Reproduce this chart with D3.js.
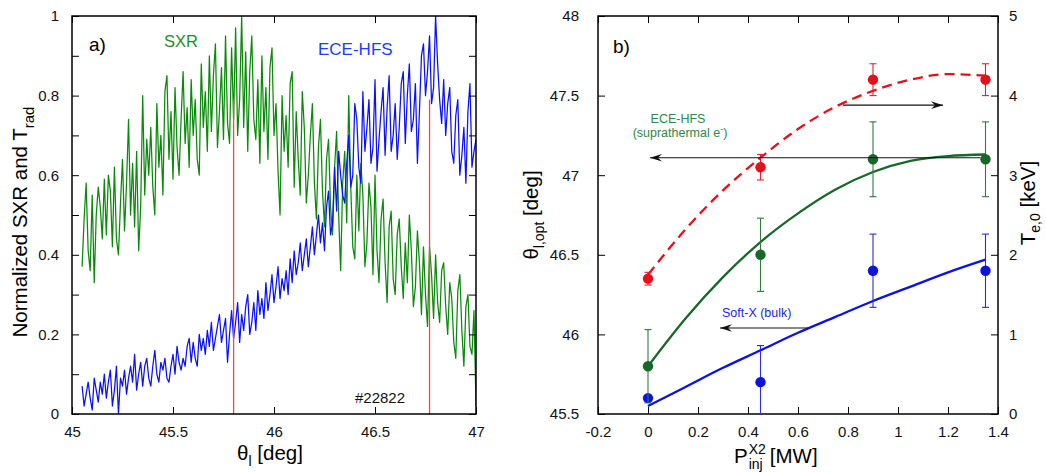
<!DOCTYPE html>
<html>
<head>
<meta charset="utf-8">
<script src="https://cdn.jsdelivr.net/npm/d3@7"></script>
<style>
  body { margin: 0; background: #fff; }
  svg text { font-family: "Liberation Sans", Arial, Helvetica, sans-serif; }
</style>
</head>
<body>
<div id="container"></div>
<script>
/**
 * CONSTANTS AND GLOBALS
 * */
const width = 1046,
  height = 472;
const panelA = { left: 72, right: 476, top: 16, bottom: 414 };
const panelB = { left: 598, right: 998, top: 16, bottom: 414 };

/**
 * DATA
 * */
// panel a) launch angle scan, one sample every 0.01 deg from 45.05 to 47.00
const thetaStart = 45.05,
  thetaStep = 0.01;
const sxr = [
  0.37, 0.49, 0.58, 0.41, 0.36, 0.55, 0.33, 0.50, 0.57, 0.52,
  0.44, 0.59, 0.45, 0.60, 0.56, 0.42, 0.62, 0.44, 0.40, 0.53,
  0.64, 0.46, 0.58, 0.74, 0.50, 0.63, 0.47, 0.66, 0.41, 0.52,
  0.80, 0.55, 0.69, 0.60, 0.72, 0.57, 0.50, 0.78, 0.62, 0.70,
  0.55, 0.81, 0.85, 0.64, 0.76, 0.59, 0.82, 0.67, 0.60, 0.74,
  0.86, 0.68, 0.77, 0.62, 0.84, 0.70, 0.79, 0.64, 0.60, 0.88,
  0.72, 0.81, 0.66, 0.90, 0.71, 0.85, 0.93, 0.67, 0.76, 0.87,
  0.69, 0.95, 0.73, 0.68, 0.92, 0.74, 0.97, 0.70, 0.79, 1.00,
  0.72, 0.91, 0.66, 0.86, 0.95, 0.74, 0.69, 0.84, 0.63, 0.90,
  0.71, 0.82, 0.64, 0.87, 0.92, 0.70, 0.78, 0.61, 0.50, 0.80,
  0.66, 0.75, 0.62, 0.83, 0.86, 0.57, 0.76, 0.64, 0.55, 0.81,
  0.72, 0.53, 0.60, 0.70, 0.78, 0.58, 0.49, 0.67, 0.74, 0.56,
  0.47, 0.64, 0.69, 0.52, 0.45, 0.62, 0.71, 0.50, 0.36, 0.58,
  0.66, 0.48, 0.80, 0.57, 0.42, 0.39, 0.60, 0.46, 0.63, 0.55,
  0.37, 0.43, 0.58, 0.52, 0.35, 0.60, 0.41, 0.33, 0.49, 0.54,
  0.38, 0.28, 0.47, 0.51, 0.34, 0.30, 0.45, 0.49, 0.37, 0.29,
  0.43, 0.33, 0.50, 0.41, 0.27, 0.32, 0.46, 0.38, 0.25, 0.42,
  0.30, 0.22, 0.42, 0.35, 0.24, 0.40, 0.28, 0.23, 0.36, 0.38,
  0.27, 0.20, 0.33, 0.29, 0.18, 0.14, 0.31, 0.35, 0.21, 0.12,
  0.27, 0.30, 0.17, 0.15, 0.26, 0.02,
];
const eceHfs = [
  0.07, 0.02, 0.05, 0.08, 0.04, 0.01, 0.09, 0.06, 0.03, 0.08,
  0.05, 0.10, 0.04, 0.08, 0.11, 0.02, 0.06, 0.12, 0.00, 0.09,
  0.07, 0.11, 0.05, 0.09, 0.12, 0.08, 0.15, 0.06, 0.10, 0.13,
  0.07, 0.12, 0.14, 0.09, 0.07, 0.12, 0.16, 0.10, 0.08, 0.13,
  0.11, 0.14, 0.09, 0.08, 0.12, 0.15, 0.10, 0.17, 0.13, 0.11,
  0.14, 0.12, 0.17, 0.19, 0.13, 0.18, 0.14, 0.12, 0.20, 0.16,
  0.19, 0.15, 0.21, 0.17, 0.23, 0.16, 0.19, 0.22, 0.25, 0.18,
  0.21, 0.24, 0.13, 0.20, 0.26, 0.19, 0.23, 0.28, 0.18, 0.25,
  0.21, 0.27, 0.30, 0.20, 0.23, 0.28, 0.21, 0.31, 0.25, 0.29,
  0.24, 0.33, 0.26, 0.30, 0.35, 0.28, 0.32, 0.37, 0.29, 0.34,
  0.31, 0.36, 0.30, 0.39, 0.33, 0.41, 0.35, 0.38, 0.43, 0.36,
  0.40, 0.44, 0.37, 0.42, 0.47, 0.40, 0.45, 0.50, 0.43, 0.48,
  0.41, 0.52, 0.56, 0.45, 0.48, 0.62, 0.51, 0.66, 0.60, 0.55,
  0.53, 0.63, 0.70, 0.57, 0.60, 0.78, 0.74, 0.62, 0.58, 0.81,
  0.66, 0.72, 0.79, 0.63, 0.67, 0.84, 0.61, 0.69, 0.76, 0.82,
  0.65, 0.77, 0.85, 0.66, 0.70, 0.78, 0.64, 0.72, 0.83, 0.86,
  0.68, 0.80, 0.88, 0.71, 0.74, 0.83, 0.63, 0.76, 0.90, 0.93,
  0.80, 0.86, 0.95, 0.78, 0.82, 1.00, 0.88, 0.79, 0.73, 0.84,
  0.70, 0.78, 0.82, 0.66, 0.63, 0.75, 0.79, 0.60, 0.65, 0.72,
  0.58, 0.76, 0.83, 0.62, 0.66, 0.69,
];
const optAngles = [45.8, 46.77]; // red markers
const optTop = 0.79;

// panel b) vs injected X2 power
const power = [0, 0.45, 0.9, 1.35];
const te0 = [1.7, 3.1, 4.2, 4.2]; // keV (right axis)
const te0Err = [0.08, 0.16, 0.2, 0.2];
const thetaEce = [45.8, 46.5, 47.1, 47.1];
const thetaEceErr = [0.23, 0.23, 0.235, 0.235];
const thetaSxr = [45.6, 45.7, 46.4, 46.4];
const thetaSxrErr = [0, 0.23, 0.23, 0.23];

// trend curves as drawn in the figure
const fitP = [0, 0.15, 0.3, 0.45, 0.6, 0.75, 0.9, 1.05, 1.2, 1.35];
const te0Fit = [1.75, 2.32, 2.81, 3.22, 3.58, 3.86, 4.06, 4.2, 4.27, 4.25];
const thetaEceFit = [45.8, 46.1, 46.36, 46.58, 46.76, 46.91, 47.02, 47.09, 47.12, 47.13];
const thetaSxrFit = [45.55, 45.67, 45.79, 45.9, 46.01, 46.11, 46.21, 46.3, 46.39, 46.47];

// arrows: which axis they refer to
const arrows = [
  { from: 0.78, to: 1.18, value: 3.88, axis: "te" },
  { from: 1.33, to: 0.008, value: 47.11, axis: "theta" },
  { from: 0.64, to: 0.288, value: 46.04, axis: "theta" },
];

const thetaTicksA = [45, 45.5, 46, 46.5, 47];
const normTicks = d3.range(0, 11).map((d) => d / 10);
const powerTicks = [-0.2, 0, 0.2, 0.4, 0.6, 0.8, 1, 1.2, 1.4];
const thetaTicksB = [45.5, 46, 46.5, 47, 47.5, 48];
const teTicks = [0, 1, 2, 3, 4, 5];

const cGreenA = "#0a8a0a",
  cBlueA = "#0a10ff",
  cRed = "#e5101b",
  cGreen = "#17682a",
  cBlue = "#0c12df";

/**
 * DRAW
 * */
const svg = d3
  .select("#container")
  .append("svg")
  .attr("width", width)
  .attr("height", height);

const fmt = d3.format("~g");

function cleanAxis(g) {
  g.select(".domain").remove();
  g.selectAll("line").attr("stroke", "#000").attr("stroke-width", 1);
  g.selectAll("text").attr("font-size", 15).attr("fill", "#111").attr("font-family", null);
}

// ---------- panel a ----------
const xA = d3.scaleLinear().domain([45, 47]).range([panelA.left, panelA.right]);
const yA = d3.scaleLinear().domain([0, 1]).range([panelA.bottom, panelA.top]);

const defs = svg.append("defs");
defs.append("clipPath").attr("id", "clipA")
  .append("rect")
  .attr("x", panelA.left).attr("y", panelA.top)
  .attr("width", panelA.right - panelA.left)
  .attr("height", panelA.bottom - panelA.top);

const lineA = d3
  .line()
  .x((d, i) => xA(thetaStart + i * thetaStep))
  .y((d) => yA(d));

const gA = svg.append("g").attr("clip-path", "url(#clipA)");
gA.append("path").datum(sxr).attr("d", lineA)
  .attr("fill", "none").attr("stroke", cGreenA).attr("stroke-width", 1.25).attr("stroke-linejoin", "round");
gA.append("path").datum(eceHfs).attr("d", lineA)
  .attr("fill", "none").attr("stroke", cBlueA).attr("stroke-width", 1.25).attr("stroke-linejoin", "round");
gA.selectAll("line.opt")
  .data(optAngles)
  .join("line")
  .attr("class", "opt")
  .attr("x1", (d) => xA(d)).attr("x2", (d) => xA(d))
  .attr("y1", yA(0)).attr("y2", yA(optTop))
  .attr("stroke", "#ef4a4a").attr("stroke-width", 1.3);

svg.append("g").attr("transform", `translate(0,${panelA.bottom})`)
  .call(d3.axisBottom(xA).tickValues(thetaTicksA).tickSizeInner(-7).tickSizeOuter(0).tickPadding(12).tickFormat(fmt))
  .call(cleanAxis);
svg.append("g").attr("transform", `translate(0,${panelA.top})`)
  .call(d3.axisTop(xA).tickValues(thetaTicksA).tickSizeInner(-7).tickSizeOuter(0).tickFormat(""))
  .call(cleanAxis);
svg.append("g").attr("transform", `translate(${panelA.left},0)`)
  .call(d3.axisLeft(yA).tickValues(normTicks).tickSizeInner(-7).tickSizeOuter(0).tickPadding(13)
    .tickFormat((d, i) => (i % 2 === 0 ? fmt(d) : "")))
  .call(cleanAxis);
svg.append("g").attr("transform", `translate(${panelA.right},0)`)
  .call(d3.axisRight(yA).tickValues(normTicks).tickSizeInner(-7).tickSizeOuter(0).tickFormat(""))
  .call(cleanAxis);

svg.append("rect")
  .attr("x", panelA.left).attr("y", panelA.top)
  .attr("width", panelA.right - panelA.left).attr("height", panelA.bottom - panelA.top)
  .attr("fill", "none").attr("stroke", "#000").attr("stroke-width", 1.5);

svg.append("text").attr("x", 89).attr("y", 51).attr("font-size", 19).text("a)");
svg.append("text").attr("x", 164).attr("y", 47).attr("font-size", 16.5).attr("fill", "#1d8f1d").text("SXR");
svg.append("text").attr("x", 318).attr("y", 55).attr("font-size", 17).attr("fill", "#1a3cff").text("ECE-HFS");
svg.append("text").attr("x", 355).attr("y", 403).attr("font-size", 15).attr("fill", "#111").text("#22822");

// axis titles a
const yTitleA = svg.append("text")
  .attr("transform", "translate(27,222) rotate(-90)")
  .attr("text-anchor", "middle").attr("font-size", 20.5);
yTitleA.append("tspan").text("Normalized SXR and T");
yTitleA.append("tspan").attr("dy", 7).attr("font-size", 15).text("rad");

const xTitleA = svg.append("text")
  .attr("x", 270).attr("y", 460).attr("text-anchor", "middle").attr("font-size", 20.5);
xTitleA.append("tspan").text("θ");
xTitleA.append("tspan").attr("dy", 6).attr("font-size", 14).text("l");
xTitleA.append("tspan").attr("dy", -6).text(" [deg]");

// ---------- panel b ----------
const xB = d3.scaleLinear().domain([-0.2, 1.4]).range([panelB.left, panelB.right]);
const yB = d3.scaleLinear().domain([45.5, 48]).range([panelB.bottom, panelB.top]);
const yT = d3.scaleLinear().domain([0, 5]).range([panelB.bottom, panelB.top]);

svg.append("g").attr("transform", `translate(0,${panelB.bottom})`)
  .call(d3.axisBottom(xB).tickValues(powerTicks).tickSizeInner(-7).tickSizeOuter(0).tickPadding(12)
    .tickFormat((d) => String(d)))
  .call(cleanAxis);
svg.append("g").attr("transform", `translate(0,${panelB.top})`)
  .call(d3.axisTop(xB).tickValues(powerTicks).tickSizeInner(-7).tickSizeOuter(0).tickFormat(""))
  .call(cleanAxis);
svg.append("g").attr("transform", `translate(${panelB.left},0)`)
  .call(d3.axisLeft(yB).tickValues(thetaTicksB).tickSizeInner(-7).tickSizeOuter(0).tickPadding(19)
    .tickFormat((d) => String(d)))
  .call(cleanAxis);
svg.append("g").attr("transform", `translate(${panelB.right},0)`)
  .call(d3.axisRight(yT).tickValues(teTicks).tickSizeInner(-7).tickSizeOuter(0).tickPadding(11)
    .tickFormat((d) => String(d)))
  .call(cleanAxis);

svg.append("rect")
  .attr("x", panelB.left).attr("y", panelB.top)
  .attr("width", panelB.right - panelB.left).attr("height", panelB.bottom - panelB.top)
  .attr("fill", "none").attr("stroke", "#000").attr("stroke-width", 1.5);

// trend curves
const curve = (scale, vals) =>
  d3.line().curve(d3.curveMonotoneX).x((d, i) => xB(fitP[i])).y((d) => scale(d))(vals);

svg.append("path").attr("d", curve(yB, thetaSxrFit))
  .attr("fill", "none").attr("stroke", cBlue).attr("stroke-width", 2.3);
svg.append("path").attr("d", curve(yB, thetaEceFit))
  .attr("fill", "none").attr("stroke", cGreen).attr("stroke-width", 2.3);
svg.append("path").attr("d", curve(yT, te0Fit))
  .attr("fill", "none").attr("stroke", cRed).attr("stroke-width", 2.3).attr("stroke-dasharray", "10,6");

// error bars + points (bars with zero error are skipped)
const series = [
  { vals: thetaSxr, errs: thetaSxrErr, scale: yB, color: cBlue, bar: "#2a2ae6" },
  { vals: thetaEce, errs: thetaEceErr, scale: yB, color: cGreen, bar: "#2f7a3c" },
  { vals: te0, errs: te0Err, scale: yT, color: cRed, bar: "#e22030" },
];

series.forEach((s) => {
  const g = svg.append("g");
  const rows = power.map((p, i) => ({ p, v: s.vals[i], e: s.errs[i] }));
  const withErr = rows.filter((d) => d.e > 0);
  const lo = (d) => Math.min(s.scale(d.v - d.e), panelB.bottom);
  const hi = (d) => s.scale(d.v + d.e);
  g.selectAll("line.bar").data(withErr).join("line").attr("class", "bar")
    .attr("x1", (d) => xB(d.p)).attr("x2", (d) => xB(d.p))
    .attr("y1", lo).attr("y2", hi)
    .attr("stroke", s.bar).attr("stroke-width", 1.1);
  g.selectAll("line.capt").data(withErr).join("line").attr("class", "capt")
    .attr("x1", (d) => xB(d.p) - 3.5).attr("x2", (d) => xB(d.p) + 3.5)
    .attr("y1", hi).attr("y2", hi)
    .attr("stroke", s.bar).attr("stroke-width", 1.1);
  g.selectAll("line.capb").data(withErr.filter((d) => s.scale(d.v - d.e) < panelB.bottom)).join("line").attr("class", "capb")
    .attr("x1", (d) => xB(d.p) - 3.5).attr("x2", (d) => xB(d.p) + 3.5)
    .attr("y1", lo).attr("y2", lo)
    .attr("stroke", s.bar).attr("stroke-width", 1.1);
  g.selectAll("circle").data(rows).join("circle")
    .attr("cx", (d) => xB(d.p)).attr("cy", (d) => s.scale(d.v))
    .attr("r", 5.2).attr("fill", s.color);
});

// arrows
defs.append("marker")
  .attr("id", "head")
  .attr("markerUnits", "userSpaceOnUse")
  .attr("viewBox", "-13 -5 14 10")
  .attr("refX", 0).attr("refY", 0)
  .attr("markerWidth", 14).attr("markerHeight", 10)
  .attr("orient", "auto")
  .append("path")
  .attr("d", "M0,0 L-12,-3.8 L-8,0 L-12,3.8 Z")
  .attr("fill", "#111");

svg.selectAll("line.arrow")
  .data(arrows)
  .join("line")
  .attr("class", "arrow")
  .attr("x1", (d) => xB(d.from)).attr("x2", (d) => xB(d.to))
  .attr("y1", (d) => (d.axis === "te" ? yT(d.value) : yB(d.value)))
  .attr("y2", (d) => (d.axis === "te" ? yT(d.value) : yB(d.value)))
  .attr("stroke", "#111").attr("stroke-width", 1.1)
  .attr("marker-end", "url(#head)");

// annotations b
svg.append("text").attr("x", 613).attr("y", 53).attr("font-size", 19).text("b)");
svg.append("text").attr("x", 678).attr("y", 123).attr("text-anchor", "middle")
  .attr("font-size", 12.5).attr("fill", "#2c8a44").text("ECE-HFS");
const supra = svg.append("text").attr("x", 680).attr("y", 137).attr("text-anchor", "middle")
  .attr("font-size", 12.5).attr("fill", "#2c8a44");
supra.append("tspan").text("(suprathermal e");
supra.append("tspan").attr("dy", -5).attr("font-size", 9).text("-");
supra.append("tspan").attr("dy", 5).text(")");
svg.append("text").attr("x", 722).attr("y", 317).attr("font-size", 12.5).attr("fill", "#2424e2").text("Soft-X (bulk)");

// axis titles b
const yTitleB = svg.append("text")
  .attr("transform", "translate(538,215) rotate(-90)")
  .attr("text-anchor", "middle").attr("font-size", 20.5);
yTitleB.append("tspan").text("θ");
yTitleB.append("tspan").attr("dy", 6).attr("font-size", 14).text("l,opt");
yTitleB.append("tspan").attr("dy", -6).text(" [deg]");

const yTitleT = svg.append("text")
  .attr("transform", "translate(1035,203) rotate(-90)")
  .attr("text-anchor", "middle").attr("font-size", 20.5);
yTitleT.append("tspan").text("T");
yTitleT.append("tspan").attr("dy", 5).attr("font-size", 14).text("e,0");
yTitleT.append("tspan").attr("dy", -5).text(" [keV]");

// P_inj^X2 [MW] with stacked sub/superscript
const px = 734,
  py = 463;
const pMain = svg.append("text").attr("x", px).attr("y", py).attr("font-size", 20.5).text("P");
const pw = pMain.node().getComputedTextLength();
const sup = svg.append("text").attr("x", px + pw + 1).attr("y", py - 9).attr("font-size", 14).text("X2");
const sub = svg.append("text").attr("x", px + pw + 1).attr("y", py + 6).attr("font-size", 14).text("inj");
const sw = Math.max(sup.node().getComputedTextLength(), sub.node().getComputedTextLength());
svg.append("text").attr("x", px + pw + 1 + sw + 4).attr("y", py).attr("font-size", 20.5).text("[MW]");
</script>
</body>
</html>
